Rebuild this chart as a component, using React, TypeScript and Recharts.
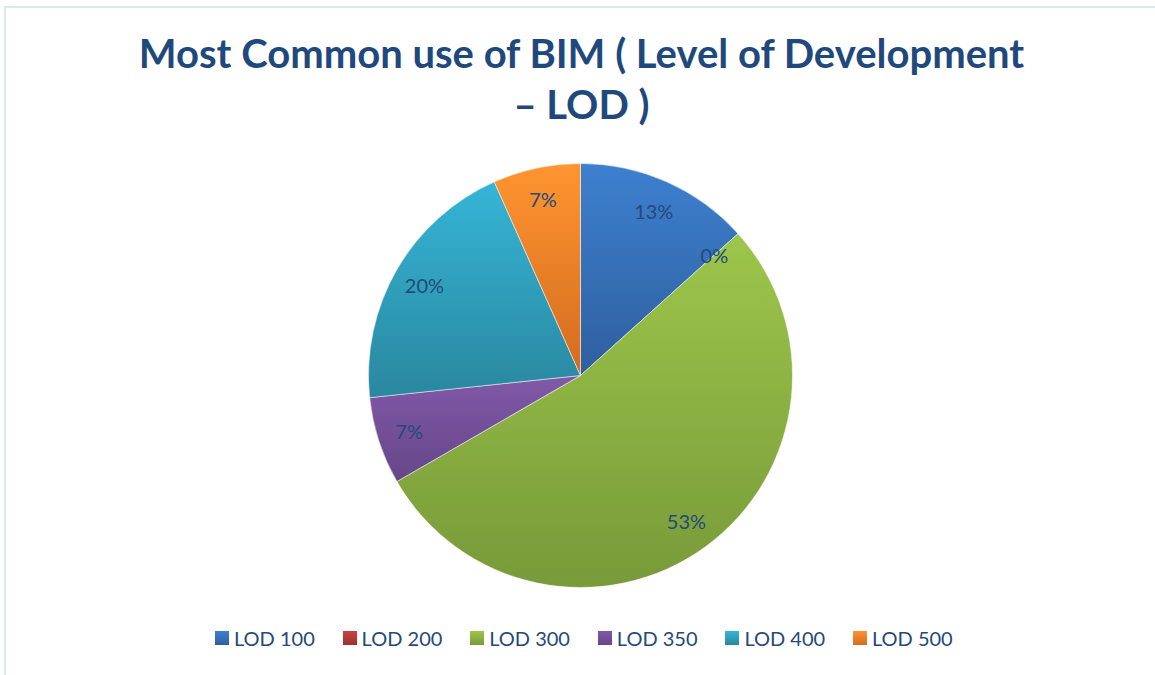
import { PieChart, Pie, Cell, Legend } from 'recharts';

const categories = ['LOD 100', 'LOD 200', 'LOD 300', 'LOD 350', 'LOD 400', 'LOD 500'];
const responses = [2, 0, 8, 1, 3, 1];
const topColors = ['#3D80CF', '#C9423F', '#9DC64B', '#8159A8', '#35B5D6', '#FF9530'];
const bottomColors = ['#2F5F9E', '#9A3331', '#789A39', '#664689', '#2A879F', '#D36B1F'];

const data = categories.map((name, i) => ({ name, value: responses[i] }));
const total = responses.reduce((a, b) => a + b, 0);

const RADIAN = Math.PI / 180;

const renderLabel = (props: any) => {
  const { cx, cy, midAngle, outerRadius, value } = props;
  const r = outerRadius * 0.85;
  const x = cx + r * Math.cos(-midAngle * RADIAN);
  const y = cy + r * Math.sin(-midAngle * RADIAN);
  return (
    <text
      x={x}
      y={y}
      fill="#24497A"
      textAnchor="middle"
      dominantBaseline="central"
      fontFamily="Lato"
      fontSize={20}
    >
      {Math.round((value / total) * 100) + '%'}
    </text>
  );
};

const renderLegend = () => (
  <div style={{ display: 'flex', paddingLeft: 215, fontFamily: 'Lato', fontSize: 20, color: '#24497A' }}>
    {categories.map((name, i) => (
      <div key={name} style={{ width: 127.6, display: 'flex', alignItems: 'center' }}>
        <span
          style={{
            width: 14,
            height: 14,
            marginRight: 5,
            background: `linear-gradient(${topColors[i]}, ${bottomColors[i]})`,
          }}
        />
        <span>{name}</span>
      </div>
    ))}
  </div>
);

export default function App() {
  return (
    <div style={{ position: 'absolute', left: 0, top: 0, width: 1155, height: 675, overflow: 'hidden', background: '#fff' }}>
      <div
        style={{
          position: 'absolute',
          left: 4,
          top: 6,
          width: 1200,
          height: 720,
          border: '2px solid #DDE7F4',
        }}
      />
      <div
        style={{
          position: 'absolute',
          left: 0,
          top: 28,
          width: 1163,
          textAlign: 'center',
          fontFamily: 'Lato',
          fontWeight: 700,
          fontSize: 40,
          lineHeight: '51px',
          color: '#1F497D',
        }}
      >
        Most Common use of BIM ( Level of Development
        <br />– LOD )
      </div>
      <PieChart
        width={1155}
        height={675}
        margin={{ top: 0, right: 0, bottom: 0, left: 0 }}
        style={{ position: 'absolute', left: 0, top: 0 }}
      >
        <defs>
          {categories.map((_, i) => (
            <linearGradient key={i} id={`g${i}`} x1="0" y1="0" x2="0" y2="1">
              <stop offset="0%" stopColor={topColors[i]} />
              <stop offset="100%" stopColor={bottomColors[i]} />
            </linearGradient>
          ))}
        </defs>
        <Pie
          data={data}
          dataKey="value"
          nameKey="name"
          cx={580.5}
          cy={375.5}
          outerRadius={212}
          startAngle={90}
          endAngle={-270}
          stroke="#ffffff"
          strokeWidth={0.5}
          label={renderLabel}
          labelLine={false}
          isAnimationActive={false}
        >
          {data.map((_, i) => (
            <Cell key={i} fill={`url(#g${i})`} />
          ))}
        </Pie>
        <Legend
          content={renderLegend}
          wrapperStyle={{ position: 'absolute', left: 0, top: 626, width: 1155 }}
        />
      </PieChart>
    </div>
  );
}
